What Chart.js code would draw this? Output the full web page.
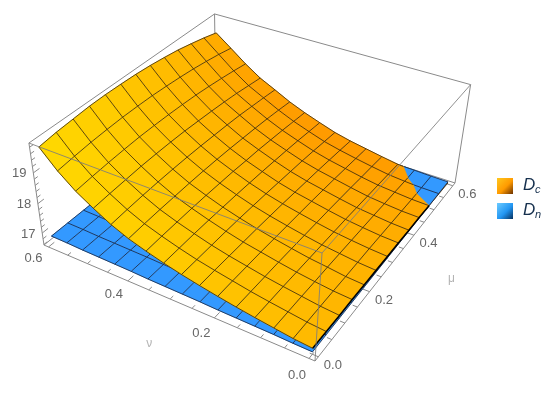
<!DOCTYPE html>
<html>
<head>
<meta charset="utf-8">
<style>html,body{margin:0;padding:0;background:#fff}canvas{display:block;filter:blur(0.4px)}</style>
<script src="https://cdn.jsdelivr.net/npm/chart.js@4"></script>
</head>
<body>
<canvas id="c" width="550" height="393"></canvas>
<script>
const nuValues = [0,0.04,0.08,0.12,0.16,0.2,0.24,0.28,0.32,0.36,0.4,0.44,0.48,0.52,0.56,0.6];
const muValues = [0,0.05,0.1,0.15,0.2,0.25,0.3,0.35,0.4,0.45,0.5,0.55,0.6];
// rows follow muValues, columns follow nuValues
const dcRows = [
[16.78,16.83,16.91,16.99,17.08,17.18,17.29,17.41,17.55,17.71,17.89,18.13,18.44,18.78,19.22,19.77],
[16.77,16.82,16.90,16.98,17.07,17.18,17.29,17.41,17.56,17.73,17.92,18.17,18.48,18.83,19.28,19.84],
[16.76,16.81,16.89,16.97,17.06,17.17,17.28,17.41,17.57,17.74,17.94,18.20,18.51,18.87,19.33,19.88],
[16.76,16.80,16.87,16.95,17.05,17.16,17.27,17.41,17.57,17.75,17.95,18.22,18.54,18.90,19.36,19.92],
[16.74,16.78,16.86,16.93,17.03,17.14,17.26,17.40,17.56,17.75,17.96,18.23,18.55,18.92,19.38,19.93],
[16.73,16.77,16.84,16.91,17.01,17.12,17.24,17.38,17.55,17.74,17.96,18.23,18.55,18.92,19.38,19.92],
[16.72,16.76,16.82,16.89,16.99,17.10,17.22,17.36,17.53,17.73,17.95,18.22,18.54,18.91,19.37,19.90],
[16.71,16.74,16.80,16.87,16.97,17.08,17.19,17.33,17.51,17.70,17.93,18.20,18.51,18.89,19.34,19.86],
[16.69,16.72,16.78,16.84,16.94,17.05,17.16,17.30,17.48,17.68,17.90,18.18,18.48,18.86,19.30,19.80],
[16.68,16.70,16.75,16.81,16.91,17.02,17.13,17.27,17.45,17.64,17.87,18.15,18.44,18.81,19.25,19.73],
[16.66,16.68,16.73,16.78,16.87,16.98,17.09,17.23,17.41,17.60,17.83,18.10,18.39,18.75,19.18,19.63],
[16.64,16.66,16.70,16.75,16.84,16.94,17.05,17.18,17.36,17.55,17.78,18.05,18.32,18.68,19.10,19.52],
[16.62,16.64,16.67,16.71,16.80,16.90,17.00,17.13,17.31,17.50,17.72,17.99,18.25,18.60,19.00,19.39]
];
const dnRows = [
[16.66,16.67,16.69,16.70,16.71,16.72,16.74,16.75,16.76,16.77,16.79,16.80,16.81,16.82,16.84,16.85],
[16.66,16.67,16.69,16.70,16.71,16.72,16.74,16.75,16.76,16.77,16.79,16.80,16.81,16.82,16.84,16.85],
[16.66,16.67,16.69,16.70,16.71,16.72,16.74,16.75,16.76,16.77,16.79,16.80,16.81,16.82,16.84,16.85],
[16.66,16.67,16.69,16.70,16.71,16.72,16.74,16.75,16.76,16.77,16.79,16.80,16.81,16.82,16.84,16.85],
[16.66,16.67,16.69,16.70,16.71,16.72,16.74,16.75,16.76,16.77,16.79,16.80,16.81,16.82,16.84,16.85],
[16.66,16.67,16.69,16.70,16.71,16.72,16.74,16.75,16.76,16.77,16.79,16.80,16.81,16.82,16.84,16.85],
[16.66,16.67,16.69,16.70,16.71,16.72,16.74,16.75,16.76,16.77,16.79,16.80,16.81,16.82,16.84,16.85],
[16.66,16.67,16.69,16.70,16.71,16.72,16.74,16.75,16.76,16.77,16.79,16.80,16.81,16.82,16.84,16.85],
[16.66,16.67,16.69,16.70,16.71,16.72,16.74,16.75,16.76,16.77,16.79,16.80,16.81,16.82,16.84,16.85],
[16.66,16.67,16.69,16.70,16.71,16.72,16.74,16.75,16.76,16.77,16.79,16.80,16.81,16.82,16.84,16.85],
[16.66,16.67,16.69,16.70,16.71,16.72,16.74,16.75,16.76,16.77,16.79,16.80,16.81,16.82,16.84,16.85],
[16.66,16.67,16.69,16.70,16.71,16.72,16.74,16.75,16.76,16.77,16.79,16.80,16.81,16.82,16.84,16.85],
[16.66,16.67,16.69,16.70,16.71,16.72,16.74,16.75,16.76,16.77,16.79,16.80,16.81,16.82,16.84,16.85]
];
const nuTicks = [0,0.05,0.1,0.15,0.2,0.25,0.3,0.35,0.4,0.45,0.5,0.55,0.6];
const muTicks = [0,0.05,0.1,0.15,0.2,0.25,0.3,0.35,0.4,0.45,0.5,0.55,0.6];
const zTicks = [16.6,16.8,17,17.2,17.4,17.6,17.8,18,18.2,18.4,18.6,18.8,19,19.2,19.4,19.6,19.8];
const nuLabels = ["0.0","0.2","0.4","0.6"];
const muLabels = ["0.0","0.2","0.4","0.6"];
const zLabels = ["17","18","19"];
const legendNames = [["D","c"],["D","n"]];

// camera: homogeneous columns for box coordinates (0..1 on each axis)
const cam0=[315,361,1], camX=[-264.5,-79.7,0.148], camY=[249.2,-134.1,0.24], camZ=[-19.7,-129,-0.083];
const zMin=16.58, zMax=19.93, pad=0.012, span=0.624;
function boxPt(X,Y,Z){
  const h=[0,1,2].map(k=>cam0[k]+X*camX[k]+Y*camY[k]+Z*camZ[k]);
  return {x:h[0]/h[2],y:h[1]/h[2]};
}
const bx=v=>(v+pad)/span, bz=z=>(z-zMin)/(zMax-zMin);
const proj=(nu,mu,z)=>boxPt(bx(nu),bx(mu),bz(z));

function dcColor(nu,mu){
  const a=nu/0.6,b=mu/0.6;
  const g=186*(1-a)*(1-b)+218*a*(1-b)+165*(1-a)*b+172*a*b-16*4*a*(1-a)*b*b;
  return `rgb(255,${Math.round(g)},0)`;
}
const DN_COLOR='rgb(51,153,255)';
const layers=[];
function addFill(pts,color){layers.push({data:pts,showLine:true,fill:'shape',backgroundColor:color,borderColor:color,borderWidth:0.7,pointRadius:0});}
function addLines(pts,color,width){layers.push({data:pts,showLine:true,fill:false,borderColor:color,borderWidth:width,pointRadius:0,spanGaps:false});}
const GAP={x:null,y:null};

// box
const boxColor='#8a8a8a', frontColor='rgba(125,125,125,0.85)';
const C=(X,Y,Z)=>boxPt(X,Y,Z);
addLines([C(1,0,0),C(1,1,0),C(0,1,0),GAP,C(1,1,0),C(1,1,1),GAP,C(1,0,1),C(1,1,1),C(0,1,1),C(0,1,0),GAP,C(1,0,0),C(1,0,1),GAP,C(1,0,0),C(0,0,0),C(0,1,0)],boxColor,1);

// ticks
const tickPts=[];
nuTicks.forEach(v=>{const m=Math.abs(v*5-Math.round(v*5))<1e-6,l=m?0.028:0.016;tickPts.push(C(bx(v),0,0),C(bx(v),l,0),GAP);});
muTicks.forEach(v=>{const m=Math.abs(v*5-Math.round(v*5))<1e-6,l=m?0.028:0.016;tickPts.push(C(0,bx(v),0),C(l,bx(v),0),GAP);});
zTicks.forEach(v=>{const m=Math.abs(v-Math.round(v))<1e-6,l=m?0.028:0.016;tickPts.push(C(1,0,bz(v)),C(1,l,bz(v)),GAP);});
addLines(tickPts,'#8a8a8a',1);

// surface cells split where the two surfaces cross
function splitPoly(vs,sign){
  const out=[];
  for(let i=0;i<vs.length;i++){
    const p=vs[i],q=vs[(i+1)%vs.length];
    const pi=sign*p.d>=0,qi=sign*q.d>=0;
    if(pi)out.push(p);
    if(pi!==qi){const t=p.d/(p.d-q.d);out.push({nu:p.nu+t*(q.nu-p.nu),mu:p.mu+t*(q.mu-p.mu),z:p.z+t*(q.z-p.z),d:0});}
  }
  return out;
}
const V=(i,j)=>({nu:nuValues[j],mu:muValues[i],z:dcRows[i][j],d:dcRows[i][j]-dnRows[i][j]});
const dcUpperFill=[],dcLowerFill=[],meshUp=[],meshLow=[];
for(let i=0;i<muValues.length-1;i++)for(let j=0;j<nuValues.length-1;j++){
  const q=[V(i,j),V(i,j+1),V(i+1,j+1),V(i+1,j)];
  const col=dcColor((nuValues[j]+nuValues[j+1])/2,(muValues[i]+muValues[i+1])/2);
  const up=splitPoly(q,1),lo=splitPoly(q,-1);
  if(up.length>2)dcUpperFill.push([up.map(p=>proj(p.nu,p.mu,p.z)),col]);
  if(lo.length>2)dcLowerFill.push([lo.map(p=>proj(p.nu,p.mu,p.z)),col]);
}
function meshEdge(a,b){
  if(a.d>=0&&b.d>=0){meshUp.push(proj(a.nu,a.mu,a.z),proj(b.nu,b.mu,b.z),GAP);return;}
  if(a.d<=0&&b.d<=0){meshLow.push(proj(a.nu,a.mu,a.z),proj(b.nu,b.mu,b.z),GAP);return;}
  const t=a.d/(a.d-b.d),m={nu:a.nu+t*(b.nu-a.nu),mu:a.mu+t*(b.mu-a.mu),z:a.z+t*(b.z-a.z)};
  const [u,l]=a.d>0?[a,b]:[b,a];
  meshUp.push(proj(u.nu,u.mu,u.z),proj(m.nu,m.mu,m.z),GAP);
  meshLow.push(proj(l.nu,l.mu,l.z),proj(m.nu,m.mu,m.z),GAP);
}
for(let i=0;i<muValues.length;i++)for(let j=0;j<nuValues.length;j++){
  if(j<nuValues.length-1)meshEdge(V(i,j),V(i,j+1));
  if(i<muValues.length-1)meshEdge(V(i,j),V(i+1,j));
}
const MESH_DC='rgba(50,35,10,0.78)', MESH_DN='rgba(25,40,70,0.85)';
dcLowerFill.forEach(f=>addFill(f[0],f[1]));
addLines(meshLow,MESH_DC,1);
const meshDn=[];
for(let i=0;i<muValues.length-1;i++)for(let j=0;j<nuValues.length-1;j++){
  const pt=(a,b)=>proj(nuValues[b],muValues[a],dnRows[a][b]);
  addFill([pt(i,j),pt(i,j+1),pt(i+1,j+1),pt(i+1,j)],DN_COLOR);
}
for(let i=0;i<muValues.length;i++){
  nuValues.forEach((n,j)=>meshDn.push(proj(n,muValues[i],dnRows[i][j])));meshDn.push(GAP);
}
for(let j=0;j<nuValues.length;j++){
  muValues.forEach((m,i)=>meshDn.push(proj(nuValues[j],m,dnRows[i][j])));meshDn.push(GAP);
}
addLines(meshDn,MESH_DN,1);
dcUpperFill.forEach(f=>addFill(f[0],f[1]));
addLines(meshUp,MESH_DC,1);
// dark rim where the two surfaces nearly touch along the near side
const rim=[];
muValues.forEach((m,i)=>{const v=V(i,0);if(v.d>=0)rim.push(proj(v.nu,v.mu,v.z));});
addLines(rim,'rgba(0,0,0,0.95)',1.6);
// edges of the box in front of the surfaces
addLines([C(1,0,1),C(0,0,1),C(0,1,1),GAP,C(0,0,1),C(0,0,0)],frontColor,1);
layers.forEach((d,k)=>{d.order=layers.length-k;});

const textPlugin={id:'plotText',afterDraw(chart){
  const ctx=chart.ctx;ctx.save();
  ctx.textAlign='center';ctx.textBaseline='middle';
  ctx.fillStyle='#666';ctx.font='13px "Liberation Sans", Arial, sans-serif';
  const put=(s,p,dx,dy)=>ctx.fillText(s,p.x+dx,p.y+dy);
  nuLabels.forEach(s=>{const v=parseFloat(s);put(s,C(bx(v),0,0),-12-5*v,17-10*v);});
  muLabels.forEach(s=>{const v=parseFloat(s);put(s,C(0,bx(v),0),14.5,8.3);});
  zLabels.forEach(s=>{const v=parseFloat(s);put(s,C(1,0,bz(v)),-14,1);});
  ctx.fillStyle='#b4b4b4';ctx.font='12px "Liberation Sans", Arial, sans-serif';
  put('\u03BD',C(bx(0.3),0,0),-21,45);
  put('\u03BC',C(0,bx(0.3),0),59,16);
  const swatch=[['#ffc81e','#ff9a00','#6a3000'],['#6ccbff','#2296f3','#06305e']];
  legendNames.forEach((n,k)=>{
    const top=178+25*k,left=497,size=16;
    const g=ctx.createLinearGradient(left,top,left+size,top+size);
    g.addColorStop(0,swatch[k][0]);g.addColorStop(0.55,swatch[k][1]);g.addColorStop(1,swatch[k][2]);
    ctx.fillStyle=g;ctx.fillRect(left,top,size,size);
    ctx.textAlign='left';ctx.fillStyle='#16304e';
    ctx.font='italic 17px "Liberation Sans", Arial, sans-serif';
    ctx.fillText(n[0],523,top+7.5);
    ctx.font='italic 11px "Liberation Sans", Arial, sans-serif';
    ctx.fillText(n[1],535,top+12);
  });
  ctx.restore();
}};

new Chart(document.getElementById('c'),{
  type:'scatter',
  data:{datasets:layers},
  plugins:[textPlugin],
  options:{
    responsive:false,animation:false,events:[],
    layout:{padding:0},
    scales:{
      x:{type:'linear',min:0,max:550,display:false},
      y:{type:'linear',min:0,max:393,reverse:true,display:false}
    },
    plugins:{legend:{display:false},tooltip:{enabled:false},title:{display:false}}
  }
});
</script>
</body>
</html>
